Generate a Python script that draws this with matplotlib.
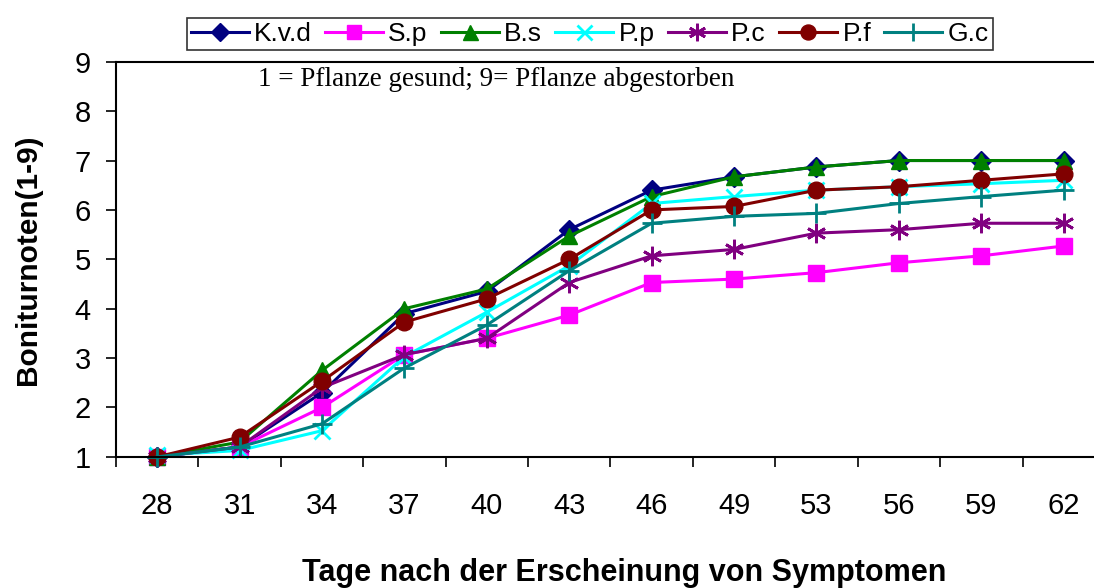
import matplotlib
matplotlib.use("Agg")
import matplotlib.pyplot as plt
from matplotlib.ticker import FixedLocator, NullFormatter

plt.rcParams['font.family'] = ['Liberation Sans', 'DejaVu Sans']

# days after symptoms appeared (categorical axis)
days = ['28', '31', '34', '37', '40', '43', '46', '49', '53', '56', '59', '62']

kvd = [1.0, 1.2, 2.3, 3.9, 4.35, 5.6, 6.4, 6.67, 6.87, 7.0, 7.0, 7.0]
sp = [1.0, 1.2, 2.0, 3.07, 3.4, 3.87, 4.53, 4.6, 4.73, 4.93, 5.07, 5.27]
bs = [1.0, 1.3, 2.75, 4.0, 4.4, 5.47, 6.27, 6.67, 6.87, 7.0, 7.0, 7.0]
pp = [1.03, 1.13, 1.53, 3.03, 3.93, 4.87, 6.13, 6.27, 6.4, 6.47, 6.53, 6.6]
pc = [1.0, 1.2, 2.4, 3.07, 3.4, 4.53, 5.07, 5.2, 5.53, 5.6, 5.73, 5.73]
pf = [1.0, 1.4, 2.53, 3.73, 4.2, 5.0, 6.0, 6.07, 6.4, 6.47, 6.6, 6.73]
gc = [1.0, 1.2, 1.67, 2.8, 3.67, 4.77, 5.73, 5.87, 5.93, 6.13, 6.27, 6.4]

series = [
    ('K.v.d', kvd, '#000080', 'D', 10),
    ('S.p', sp, '#FF00FF', 's', 11),
    ('B.s', bs, '#008000', '^', 12),
    ('P.p', pp, '#00FFFF', 'x', 12),
    ('P.c', pc, '#800080', (6, 2, 0), 14),
    ('P.f', pf, '#800000', 'o', 12),
    ('G.c', gc, '#008080', '+', 14),
]

fig = plt.figure(figsize=(10.94, 5.88), dpi=100)
ax = fig.add_axes([0.106, 0.223, 0.904, 0.672])

x = list(range(len(days)))
for name, vals, col, mk, ms in series:
    ax.plot(x, vals, color=col, lw=2.2, marker=mk, markersize=ms,
            markeredgewidth=2 if mk in ('x', '+') or isinstance(mk, tuple) else 1,
            markerfacecolor=col, markeredgecolor=col, label=name, clip_on=False)

ax.set_xlim(-0.5, len(days) - 0.5)
ax.set_ylim(1, 9)
ax.set_yticks(range(1, 10))

# category labels centred, ticks on the boundaries
ax.set_xticks(x)
ax.set_xticklabels(days)
ax.xaxis.set_minor_locator(FixedLocator([i - 0.5 for i in range(len(days) + 1)]))
ax.xaxis.set_minor_formatter(NullFormatter())
ax.tick_params(axis='x', which='major', length=0, pad=25, labelsize=21)
ax.tick_params(axis='x', which='minor', length=7, width=1.2, direction='out')
ax.tick_params(axis='y', length=7, width=1.2, direction='out', pad=11, labelsize=21)

for s in ax.spines.values():
    s.set_linewidth(1.5)

ax.set_ylabel('Boniturnoten(1-9)', fontsize=21.5, fontweight='bold')
ax.yaxis.set_label_coords(-0.075, 0.5)
ax.set_xlabel('Tage nach der Erscheinung von Symptomen', fontsize=22,
              fontweight='bold', va='center')
ax.xaxis.set_label_coords(0.514, -0.294)

ax.text(0.1436, 0.954, '1 = Pflanze gesund; 9= Pflanze abgestorben',
        transform=ax.transAxes, family=['Liberation Serif', 'DejaVu Serif'],
        fontsize=19.5, va='center', ha='left')

leg = fig.legend(loc='center', bbox_to_anchor=(0.539, 0.942), ncol=7,
                 fontsize=19, frameon=True, fancybox=False, edgecolor='black',
                 handlelength=2.2, handletextpad=0.2, columnspacing=0.5,
                 borderpad=0.15, borderaxespad=0, markerscale=0.9)
leg.get_frame().set_linewidth(1.2)

fig.savefig('out.png', dpi=100)
